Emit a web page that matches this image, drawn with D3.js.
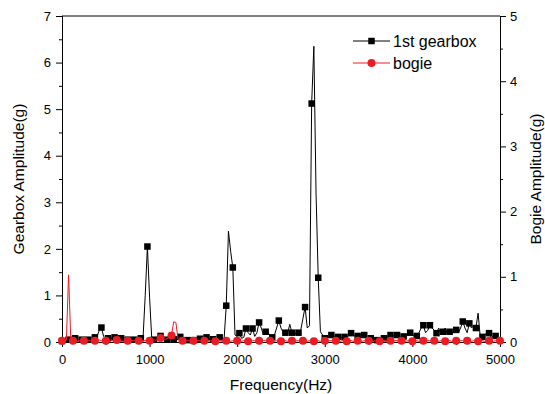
<!DOCTYPE html>
<html>
<head>
<meta charset="utf-8">
<script src="https://cdn.jsdelivr.net/npm/d3@7"></script>
<style>
  body { margin: 0; background: #fff; }
  text { font-family: "Liberation Sans", Arial, sans-serif; fill: #000; }
</style>
</head>
<body>
<div id="chart"></div>
<script>
const width = 545;
const height = 394;
const margin = { top: 16, right: 45, bottom: 52, left: 62 };

// spectrum sampled every 25 Hz from 0 to 5000 Hz
const freqStep = 25;

// 1st gearbox amplitude (g), left axis
const gearbox = [
  0.02,0.03,0.02,0.05,0.06,0.08,0.08,0.05,0.04,0.05,
  0.03,0.04,0.05,0.04,0.05,0.10,0.12,0.25,0.31,0.12,
  0.06,0.08,0.10,0.07,0.10,0.06,0.08,0.08,0.05,0.04,
  0.05,0.03,0.04,0.05,0.03,0.04,0.08,0.08,1.00,2.05,
  0.95,0.06,0.05,0.04,0.06,0.13,0.12,0.06,0.05,0.04,
  0.05,0.06,0.10,0.08,0.11,0.08,0.06,0.04,0.05,0.04,
  0.04,0.05,0.06,0.07,0.08,0.10,0.10,0.07,0.05,0.06,
  0.05,0.08,0.10,0.06,0.05,0.78,2.38,1.95,1.60,0.15,
  0.12,0.19,0.08,0.10,0.29,0.20,0.15,0.29,0.12,0.20,
  0.42,0.30,0.15,0.22,0.20,0.15,0.10,0.15,0.30,0.46,
  0.30,0.21,0.20,0.18,0.38,0.20,0.15,0.20,0.20,0.25,
  0.50,0.75,0.30,0.35,5.12,6.35,3.20,1.38,0.22,0.15,
  0.08,0.10,0.12,0.15,0.12,0.10,0.11,0.08,0.10,0.11,
  0.10,0.14,0.19,0.15,0.12,0.13,0.10,0.12,0.15,0.10,
  0.07,0.08,0.06,0.05,0.04,0.06,0.07,0.08,0.10,0.12,
  0.15,0.14,0.12,0.15,0.12,0.10,0.12,0.15,0.18,0.20,
  0.15,0.12,0.13,0.20,0.30,0.36,0.20,0.25,0.36,0.30,
  0.25,0.19,0.30,0.15,0.22,0.30,0.15,0.22,0.18,0.25,
  0.26,0.20,0.30,0.44,0.30,0.20,0.40,0.30,0.35,0.30,
  0.62,0.10,0.11,0.15,0.20,0.19,0.10,0.12,0.13,0.10,
  0.08
];

// bogie amplitude (g), right axis
const bogie = [
  0.02,0.03,0.03,1.03,0.05,0.02,0.02,0.01,0.02,0.02,
  0.02,0.01,0.02,0.02,0.01,0.02,0.02,0.03,0.02,0.02,
  0.02,0.02,0.03,0.02,0.01,0.03,0.02,0.02,0.01,0.02,
  0.02,0.01,0.02,0.02,0.02,0.02,0.01,0.02,0.02,0.03,
  0.02,0.02,0.03,0.03,0.04,0.06,0.05,0.04,0.05,0.08,
  0.10,0.31,0.30,0.04,0.02,0.02,0.01,0.02,0.02,0.01,
  0.02,0.01,0.02,0.02,0.01,0.02,0.02,0.01,0.02,0.02,
  0.01,0.02,0.02,0.01,0.02,0.02,0.02,0.01,0.02,0.01,
  0.02,0.02,0.01,0.02,0.02,0.01,0.02,0.02,0.02,0.01,
  0.02,0.01,0.02,0.02,0.01,0.02,0.02,0.01,0.02,0.02,
  0.01,0.02,0.02,0.01,0.02,0.02,0.01,0.02,0.02,0.01,
  0.02,0.02,0.01,0.02,0.02,0.01,0.02,0.02,0.01,0.02,
  0.02,0.01,0.02,0.02,0.01,0.02,0.02,0.01,0.02,0.02,
  0.01,0.02,0.02,0.01,0.02,0.02,0.02,0.01,0.02,0.01,
  0.02,0.02,0.01,0.02,0.02,0.01,0.02,0.02,0.02,0.01,
  0.02,0.01,0.02,0.02,0.01,0.02,0.02,0.01,0.02,0.02,
  0.01,0.02,0.02,0.01,0.02,0.02,0.01,0.02,0.02,0.01,
  0.02,0.02,0.01,0.02,0.02,0.01,0.02,0.02,0.01,0.02,
  0.02,0.01,0.02,0.02,0.01,0.02,0.02,0.01,0.02,0.02,
  0.01,0.02,0.02,0.01,0.02,0.02,0.02,0.01,0.02,0.01,
  0.02
];

const xTicks = [0, 1000, 2000, 3000, 4000, 5000];
const gearTicks = [0, 1, 2, 3, 4, 5, 6, 7];
const bogieTicks = [0, 1, 2, 3, 4, 5];

const legendItems = ["1st gearbox", "bogie"];
const red = "#ec1c24";

const svg = d3.select("#chart")
  .append("svg")
  .attr("width", width)
  .attr("height", height);

const x = d3.scaleLinear()
  .domain([0, 5000])
  .range([margin.left, width - margin.right]);

const yG = d3.scaleLinear()
  .domain([0, 7])
  .range([height - margin.bottom, margin.top]);

const yB = d3.scaleLinear()
  .domain([0, 5])
  .range([height - margin.bottom, margin.top]);

const gearData = gearbox.map((v, i) => ({ f: i * freqStep, v }));
const bogieData = bogie.map((v, i) => ({ f: i * freqStep, v }));

// axes: minor ticks first, then major with labels
function styleAxis(g) {
  g.select(".domain").attr("stroke", "#000").attr("stroke-width", 1);
  g.selectAll(".tick line").attr("stroke", "#000").attr("stroke-width", 1);
  g.selectAll(".tick text").style("font-size", "13px");
}

const bottom = height - margin.bottom;

svg.append("g")
  .attr("transform", `translate(0,${bottom})`)
  .call(d3.axisBottom(x).tickValues(d3.range(500, 5000, 1000)).tickSize(3).tickFormat(""))
  .call(styleAxis);
svg.append("g")
  .attr("transform", `translate(0,${bottom})`)
  .call(d3.axisBottom(x).tickValues(xTicks).tickSize(5).tickPadding(8).tickFormat(d3.format("d")))
  .call(styleAxis);

svg.append("g")
  .attr("transform", `translate(${margin.left},0)`)
  .call(d3.axisLeft(yG).tickValues(d3.range(0.5, 7, 1)).tickSize(3).tickFormat(""))
  .call(styleAxis);
svg.append("g")
  .attr("transform", `translate(${margin.left},0)`)
  .call(d3.axisLeft(yG).tickValues(gearTicks).tickSize(6).tickPadding(5).tickFormat(d3.format("d")))
  .call(styleAxis);

svg.append("g")
  .attr("transform", `translate(${width - margin.right},0)`)
  .call(d3.axisRight(yB).tickValues(d3.range(0.5, 5, 1)).tickSize(3).tickFormat(""))
  .call(styleAxis);
svg.append("g")
  .attr("transform", `translate(${width - margin.right},0)`)
  .call(d3.axisRight(yB).tickValues(bogieTicks).tickSize(6).tickPadding(4).tickFormat(d3.format("d")))
  .call(styleAxis);

// top frame line
svg.append("line")
  .attr("x1", margin.left).attr("x2", width - margin.right)
  .attr("y1", margin.top).attr("y2", margin.top)
  .attr("stroke", "#000");

// gearbox series
const gearLine = d3.line().x(d => x(d.f)).y(d => yG(d.v));
svg.append("path")
  .datum(gearData)
  .attr("d", gearLine)
  .attr("fill", "none")
  .attr("stroke", "#000")
  .attr("stroke-width", 1);

const sq = 6.5;
svg.append("g")
  .selectAll("rect")
  .data(gearData.filter((d, i) => i % 3 === 0))
  .enter()
  .append("rect")
  .attr("x", d => x(d.f) - sq / 2)
  .attr("y", d => yG(d.v) - sq / 2)
  .attr("width", sq)
  .attr("height", sq)
  .attr("fill", "#000");

// bogie series
const bogieLine = d3.line().x(d => x(d.f)).y(d => yB(d.v));
svg.append("path")
  .datum(bogieData)
  .attr("d", bogieLine)
  .attr("fill", "none")
  .attr("stroke", red)
  .attr("stroke-width", 1);

svg.append("g")
  .selectAll("circle")
  .data(bogieData.filter((d, i) => i % 5 === 0))
  .enter()
  .append("circle")
  .attr("cx", d => x(d.f))
  .attr("cy", d => yB(d.v))
  .attr("r", 4)
  .attr("fill", red);

// axis titles
svg.append("text")
  .attr("x", (margin.left + width - margin.right) / 2)
  .attr("y", 390)
  .attr("text-anchor", "middle")
  .style("font-size", "15.5px")
  .text("Frequency(Hz)");

svg.append("text")
  .attr("transform", `translate(24,${(margin.top + bottom) / 2}) rotate(-90)`)
  .attr("text-anchor", "middle")
  .style("font-size", "15.5px")
  .text("Gearbox Amplitude(g)");

svg.append("text")
  .attr("transform", `translate(541,${(margin.top + bottom) / 2}) rotate(-90)`)
  .attr("text-anchor", "middle")
  .style("font-size", "15.5px")
  .text("Bogie Amplitude(g)");

// legend
const legend = svg.append("g").attr("transform", "translate(353,41)");
legendItems.forEach((name, i) => {
  const g = legend.append("g").attr("transform", `translate(0,${i * 22})`);
  const col = i === 0 ? "#000" : red;
  g.append("line").attr("x1", 0).attr("x2", 37).attr("y1", 0).attr("y2", 0)
    .attr("stroke", col).attr("stroke-width", 1);
  if (i === 0) {
    g.append("rect").attr("x", 18.5 - sq / 2).attr("y", -sq / 2)
      .attr("width", sq).attr("height", sq).attr("fill", col);
  } else {
    g.append("circle").attr("cx", 18.5).attr("cy", 0).attr("r", 4).attr("fill", col);
  }
  g.append("text")
    .attr("x", 40)
    .attr("y", 0)
    .attr("dy", "0.35em")
    .style("font-size", "16px")
    .text(name);
});
</script>
</body>
</html>
